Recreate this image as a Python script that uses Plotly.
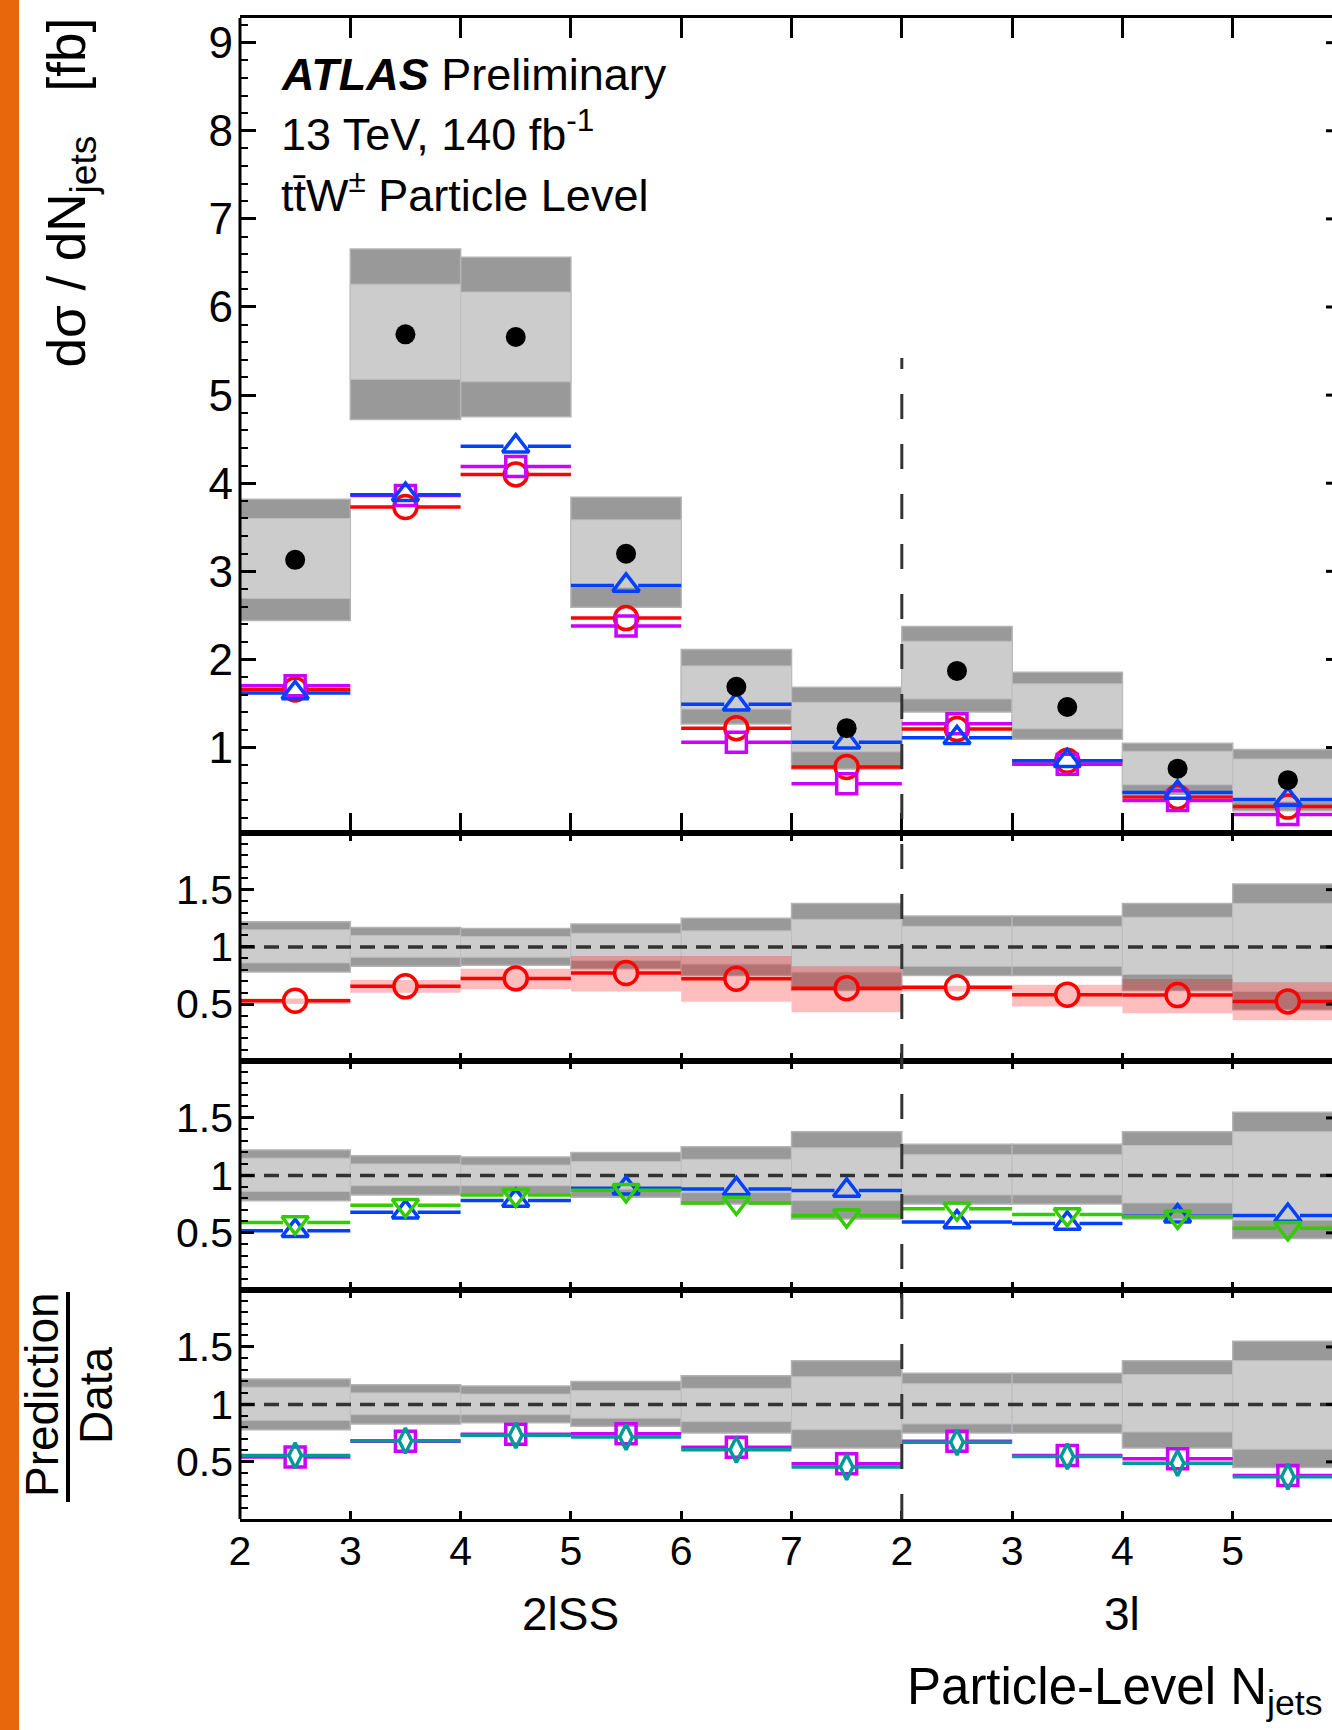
import plotly.graph_objects as go

# ---------------- data ----------------
tick_text = ["2", "3", "4", "5", "6", "7", "2", "3", "4", "5"]   # bin lower edges (N_jets)
n_bins_2lss = 6
region_labels = ["2lSS", "3l"]
region_centers = [3.0, 8.0]          # in bin units

# measured cross section per bin [fb]
data = [3.13, 5.69, 5.66, 3.20, 1.69, 1.22, 1.87, 1.46, 0.76, 0.63]
# relative uncertainties of the data (outer = total, inner = stat)
tot_up = [0.22, 0.17, 0.16, 0.20, 0.25, 0.38, 0.27, 0.27, 0.38, 0.55]
tot_dn = [0.22, 0.17, 0.16, 0.19, 0.25, 0.38, 0.25, 0.25, 0.38, 0.55]
stat_up = [0.15, 0.10, 0.09, 0.12, 0.14, 0.24, 0.18, 0.18, 0.26, 0.38]
stat_dn = [0.14, 0.09, 0.09, 0.12, 0.15, 0.22, 0.17, 0.17, 0.24, 0.39]

# predictions shown in the main panel [fb]
pred_red = [1.66, 3.73, 4.10, 2.47, 1.22, 0.78, 1.21, 0.85, 0.44, 0.33]
pred_blue = [1.62, 3.87, 4.42, 2.84, 1.49, 1.06, 1.11, 0.85, 0.49, 0.41]
pred_magenta = [1.70, 3.86, 4.19, 2.38, 1.06, 0.59, 1.27, 0.81, 0.40, 0.24]
# red prediction uncertainty band (ratio space)
red_band_lo = [0.50, 0.60, 0.63, 0.61, 0.52, 0.43, 0.61, 0.48, 0.42, 0.36]
red_band_hi = [0.55, 0.71, 0.81, 0.92, 0.92, 0.83, 0.66, 0.67, 0.72, 0.69]
# predictions shown only in ratio panels (prediction / data)
ratio_green = [0.59, 0.74, 0.83, 0.87, 0.76, 0.65, 0.71, 0.66, 0.64, 0.54]
ratio_teal = [0.556, 0.684, 0.731, 0.716, 0.605, 0.455, 0.67, 0.547, 0.489, 0.371]

# ---------------- layout constants ----------------
W, H = 1332, 1730
PL = 240                      # plot area left edge [px]
PW = W - PL                   # plot area width [px]
XMAX = 9.9                    # visible x range (bins)
MAIN_RANGE = [0.03, 9.28]
RATIO_RANGE = [0.003, 1.995]
panel_px = [(18, 833), (833, 1061), (1061, 1290), (1290, 1519)]   # top, bottom
FONT = "Liberation Sans, Arial, Helvetica, sans-serif"
DARK = "#999999"
LIGHT = "#cccccc"
RED = "#ff0000"
BLUE = "#0040ff"
MAG = "#cc00ff"
GREEN = "#33cc00"
TEAL = "#009999"


def py(px):
    return 1 - px / H


def pxx(px):
    return (px - PL) / PW


domains = [[py(b), py(t)] for t, b in panel_px]
n = len(data)
xc = [i + 0.5 for i in range(n)]

fig = go.Figure()


def seg(values, gap):
    xs, ys = [], []
    for i, v in enumerate(values):
        c = i + 0.5
        xs += [i, c - gap, None, c + gap, i + 1, None]
        ys += [v, v, None, v, v, None]
    return xs, ys


def add_band(ax, lo, hi, color, line_color, lw=1.0):
    fig.add_trace(go.Bar(x=xc, base=lo, y=[h - l for l, h in zip(lo, hi)], width=1,
                         marker=dict(color=color, line=dict(color=line_color, width=lw)),
                         xaxis="x" + ax, yaxis="y" + ax, hoverinfo="skip", showlegend=False))


def add_pred(ax, values, color, symbol, size, gap):
    xs, ys = seg(values, gap)
    fig.add_trace(go.Scatter(x=xs, y=ys, mode="lines", line=dict(color=color, width=3.5),
                             xaxis="x" + ax, yaxis="y" + ax, hoverinfo="skip", showlegend=False))
    fig.add_trace(go.Scatter(x=xc, y=values, mode="markers",
                             marker=dict(symbol=symbol, size=size, color=color, line=dict(color=color, width=3.5)),
                             xaxis="x" + ax, yaxis="y" + ax, hoverinfo="skip", showlegend=False))


# ---- main panel ----
add_band("", [d * (1 - t) for d, t in zip(data, tot_dn)], [d * (1 + t) for d, t in zip(data, tot_up)], DARK, "#b3b3b3", 1.5)
add_band("", [d * (1 - t) for d, t in zip(data, stat_dn)], [d * (1 + t) for d, t in zip(data, stat_up)], LIGHT, "#bdbdbd", 1.0)
add_pred("", pred_red, RED, "circle-open", 23, 0.1)
add_pred("", pred_magenta, MAG, "square-open", 20, 0.09)
add_pred("", pred_blue, BLUE, "triangle-up-open", 23, 0.11)
fig.add_trace(go.Scatter(x=xc, y=data, mode="markers", marker=dict(symbol="circle", size=20, color="black"),
                         xaxis="x", yaxis="y", hoverinfo="skip", showlegend=False))

ratio_red = [p / d for p, d in zip(pred_red, data)]
ratio_blue = [p / d for p, d in zip(pred_blue, data)]
ratio_magenta = [p / d for p, d in zip(pred_magenta, data)]

for k, ax in enumerate(["2", "3", "4"]):
    add_band(ax, [1 - t for t in tot_dn], [1 + t for t in tot_up], DARK, "#b3b3b3", 1.5)
    add_band(ax, [1 - t for t in stat_dn], [1 + t for t in stat_up], LIGHT, "#bdbdbd", 1.0)
    if ax == "2":
        add_band(ax, red_band_lo, red_band_hi, "rgba(255,0,0,0.26)", "rgba(255,0,0,0)", 0)
    fig.add_trace(go.Scatter(x=[0, XMAX + 1], y=[1, 1], mode="lines",
                             line=dict(color="#333333", width=3.5, dash="15px,9px"),
                             xaxis="x" + ax, yaxis="y" + ax, hoverinfo="skip", showlegend=False))
    if ax == "2":
        add_pred(ax, ratio_red, RED, "circle-open", 23, 0.1)
    elif ax == "3":
        add_pred(ax, ratio_blue, BLUE, "triangle-up-open", 23, 0.11)
        add_pred(ax, ratio_green, GREEN, "triangle-down-open", 23, 0.11)
    else:
        add_pred(ax, ratio_magenta, MAG, "square-open", 20, 0.09)
        add_pred(ax, ratio_teal, TEAL, "diamond-tall-open", 18, 0.05)

# ---------------- axes ----------------
layout = dict(width=W, height=H, margin=dict(l=PL, r=0, t=0, b=0),
              paper_bgcolor="white", plot_bgcolor="white", barmode="overlay",
              showlegend=False, font=dict(family=FONT, color="black"))
suffixes = ["", "2", "3", "4"]
for k, s in enumerate(suffixes):
    main = (k == 0)
    layout["xaxis" + s] = dict(domain=[0, 1], anchor="y" + s, range=[0, XMAX],
                               tickmode="array", tickvals=list(range(n)), ticktext=tick_text,
                               ticks="inside", ticklen=20 if main else 8, tickwidth=3, tickcolor="black",
                               showline=True, linewidth=3, linecolor="black", mirror="ticks",
                               showgrid=False, zeroline=False,
                               showticklabels=(k == 3), tickfont=dict(size=41, family=FONT),
                               ticklabelstandoff=-6)
    layout["yaxis" + s] = dict(domain=domains[k], anchor="x" + s,
                               range=MAIN_RANGE if main else RATIO_RANGE,
                               tickmode="linear", tick0=0 if main else 0.5, dtick=1 if main else 0.5,
                               ticks="inside", ticklen=16 if main else 14, tickwidth=3, tickcolor="black",
                               minor=dict(ticks="inside", ticklen=8, tickwidth=2, tickcolor="black",
                                          dtick=0.2 if main else 0.1, tick0=0),
                               showline=False, mirror=False, showgrid=False, zeroline=False,
                               tickfont=dict(size=44 if main else 41, family=FONT),
                               ticklabelstandoff=6)
fig.update_layout(**layout)

# ---------------- shapes ----------------
shapes = []
# orange side bar
shapes.append(dict(type="rect", xref="paper", yref="paper", x0=pxx(0), x1=pxx(19), y0=0, y1=1,
                   fillcolor="#e8670c", line=dict(width=0), layer="above"))
# left frame line
shapes.append(dict(type="line", xref="paper", yref="paper", x0=0, x1=0, y0=domains[3][0], y1=domains[0][1],
                   line=dict(color="black", width=3)))
# right-edge tick stubs (axis itself lies just beyond the cropped edge)
for k, s in enumerate(suffixes):
    if k == 0:
        vals = list(range(1, 10))
    else:
        vals = [0.5, 1.0, 1.5]
    for v in vals:
        shapes.append(dict(type="line", xref="paper", yref="y" + s, x0=1 - 6 / PW, x1=1, y0=v, y1=v,
                           line=dict(color="black", width=3)))
# channel separator (dashed)
sep_top_val = 5.42
sep_top = domains[0][0] + (sep_top_val - MAIN_RANGE[0]) / (MAIN_RANGE[1] - MAIN_RANGE[0]) * (domains[0][1] - domains[0][0])
shapes.append(dict(type="line", xref="paper", yref="paper", x0=n_bins_2lss / XMAX, x1=n_bins_2lss / XMAX,
                   y0=domains[3][0], y1=sep_top, line=dict(color="#333333", width=3, dash="25px,25px"),
                   layer="above"))
# fraction bar of the ratio title
shapes.append(dict(type="line", xref="paper", yref="paper", x0=pxx(68), x1=pxx(68), y0=py(1502), y1=py(1292),
                   line=dict(color="black", width=4)))
fig.update_layout(shapes=shapes)

# ---------------- annotations ----------------
ann = []
for txt, yc in [("<b><i>ATLAS</i></b> Preliminary", 74),
                ("13 TeV, 140 fb<sup>-1</sup>", 131),
                ("tt\u0304W<sup>\u00b1</sup> Particle Level", 192)]:
    ann.append(dict(text=txt, xref="paper", yref="paper", x=pxx(279), y=py(yc), xanchor="left", yanchor="middle",
                    showarrow=False, font=dict(size=45, family=FONT, color="black")))
ann.append(dict(text="d\u03c3 / dN<sub>jets</sub>\u00a0\u00a0\u00a0[fb]", xref="paper", yref="paper",
                x=pxx(34), y=py(16), xanchor="left", yanchor="top", textangle=-90, showarrow=False,
                font=dict(size=53, family=FONT, color="black")))
ann.append(dict(text="Prediction", xref="paper", yref="paper", x=pxx(42), y=py(1395), xanchor="center",
                yanchor="middle", textangle=-90, showarrow=False, font=dict(size=46, family=FONT, color="black")))
ann.append(dict(text="Data", xref="paper", yref="paper", x=pxx(96), y=py(1395), xanchor="center",
                yanchor="middle", textangle=-90, showarrow=False, font=dict(size=46, family=FONT, color="black")))
for lab, xcn in zip(region_labels, region_centers):
    ann.append(dict(text=lab, xref="x4", yref="paper", x=xcn, y=py(1614), xanchor="center", yanchor="middle",
                    showarrow=False, font=dict(size=46, family=FONT, color="black")))
ann.append(dict(text="Particle-Level N<sub>jets</sub>", xref="paper", yref="paper", x=pxx(905), y=py(1690),
                xanchor="left", yanchor="middle", showarrow=False, font=dict(size=51, family=FONT, color="black")))
fig.update_layout(annotations=ann)

fig.write_html("out.html")
